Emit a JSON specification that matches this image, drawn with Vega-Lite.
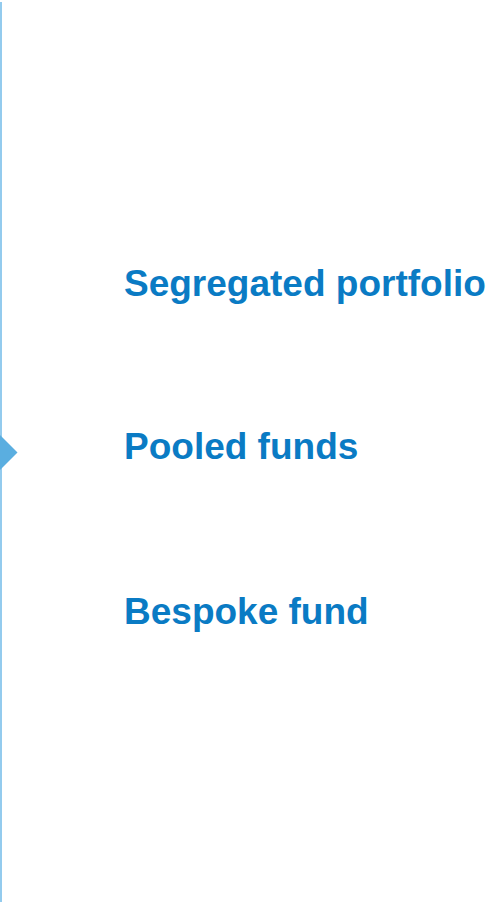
{
  "$schema": "https://vega.github.io/schema/vega-lite/v6.json",
  "width": 489,
  "height": 903,
  "autosize": {"type": "fit", "contains": "padding"},
  "padding": 0,
  "background": "#ffffff",
  "config": {"view": {"stroke": null}},
  "layer": [
    {
      "data": {"values": [{"x": 1, "y": 2, "y2": 903}]},
      "mark": {"type": "rule", "color": "#93cbee", "strokeWidth": 2},
      "encoding": {
        "x": {"field": "x", "type": "quantitative", "scale": {"domain": [0, 489]}, "axis": null},
        "y": {"field": "y", "type": "quantitative", "scale": {"domain": [0, 903], "reverse": true}, "axis": null},
        "y2": {"field": "y2"}
      }
    },
    {
      "data": {"values": [{"x": 0, "y": 453}]},
      "mark": {"type": "point", "shape": "M0,-1L1,0L0,1Z", "filled": true, "size": 1225, "color": "#5aaee0", "opacity": 1, "strokeWidth": 0},
      "encoding": {
        "x": {"field": "x", "type": "quantitative", "scale": {"domain": [0, 489]}, "axis": null},
        "y": {"field": "y", "type": "quantitative", "scale": {"domain": [0, 903], "reverse": true}, "axis": null}
      }
    },
    {
      "data": {"values": [
        {"label": "Segregated portfolio", "x": 124, "y": 296.5},
        {"label": "Pooled funds", "x": 124, "y": 459.7},
        {"label": "Bespoke fund", "x": 124, "y": 624.7}
      ]},
      "mark": {"type": "text", "align": "left", "baseline": "alphabetic", "font": "Liberation Sans", "fontWeight": "bold", "fontSize": 37, "color": "#0a7bc4"},
      "encoding": {
        "x": {"field": "x", "type": "quantitative", "scale": {"domain": [0, 489]}, "axis": null},
        "y": {"field": "y", "type": "quantitative", "scale": {"domain": [0, 903], "reverse": true}, "axis": null},
        "text": {"field": "label"}
      }
    }
  ]
}
